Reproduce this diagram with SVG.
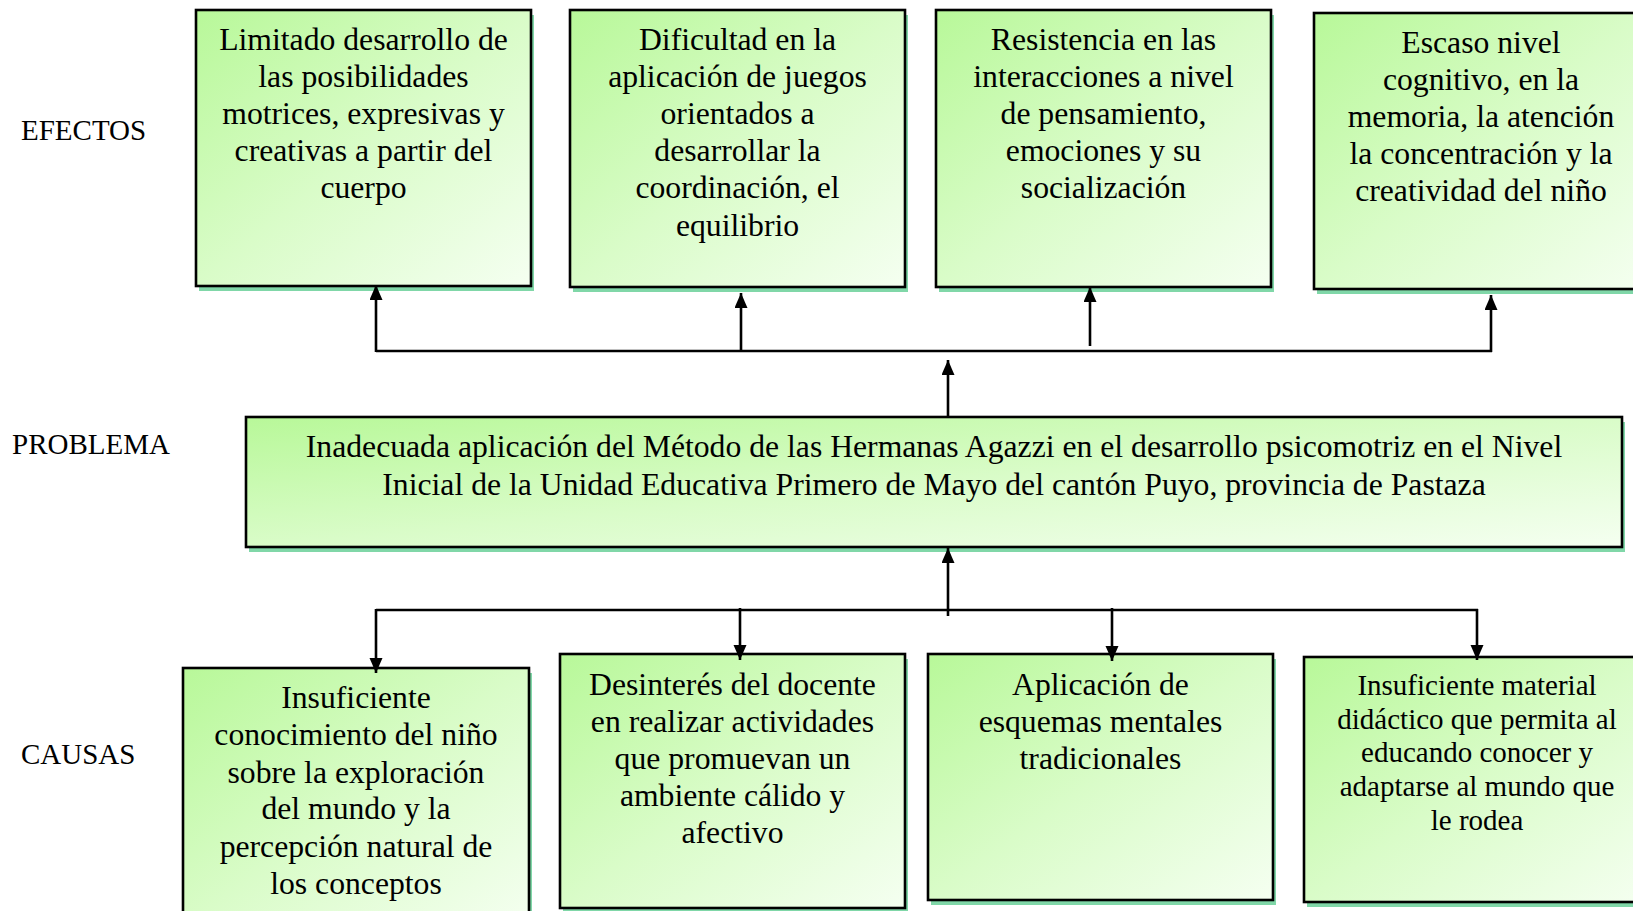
<svg xmlns="http://www.w3.org/2000/svg" width="1633" height="911" viewBox="0 0 1633 911">
<defs>
<linearGradient id="g" x1="0" y1="0" x2="1" y2="1">
<stop offset="0" stop-color="#b8f899"/>
<stop offset="0.5" stop-color="#d9fcc8"/>
<stop offset="1" stop-color="#f5fff1"/>
</linearGradient>
<marker id="ah" markerUnits="userSpaceOnUse" markerWidth="16" markerHeight="14" refX="15" refY="6.5" orient="auto">
<path d="M0,0 L15,6.5 L0,13 z" fill="#000"/>
</marker>
<style>
.sh{fill:#80d7a8}
.bx{fill:url(#g);stroke:#000;stroke-width:2.6}
.t{font-family:"Liberation Serif","Times New Roman",serif;font-size:31.7px;fill:#000;text-anchor:middle}
.ts{font-family:"Liberation Serif","Times New Roman",serif;font-size:29px;fill:#000;text-anchor:middle}
.lb{font-family:"Liberation Serif","Times New Roman",serif;font-size:29px;fill:#000}
.c{fill:none;stroke:#000;stroke-width:2.6}
.a{fill:none;stroke:#000;stroke-width:2.6;marker-end:url(#ah)}
</style>
</defs>
<rect width="1633" height="911" fill="#fff"/>

<g id="labels">
<text class="lb" x="21" y="140">EFECTOS</text>
<text class="lb" x="12" y="454">PROBLEMA</text>
<text class="lb" x="21" y="764">CAUSAS</text>
</g>

<g id="efecto1">
<rect class="sh" x="199" y="15" width="335" height="276"/>
<rect class="bx" x="196" y="10" width="335" height="276"/>
<text class="t"><tspan x="363.5" y="50">Limitado desarrollo de</tspan><tspan x="363.5" y="87">las posibilidades</tspan><tspan x="363.5" y="124">motrices, expresivas y</tspan><tspan x="363.5" y="161">creativas a partir del</tspan><tspan x="363.5" y="198">cuerpo</tspan></text>
</g>
<g id="efecto2">
<rect class="sh" x="573" y="15" width="335" height="277"/>
<rect class="bx" x="570" y="10" width="335" height="277"/>
<text class="t"><tspan x="737.5" y="50">Dificultad en la</tspan><tspan x="737.5" y="87">aplicación de juegos</tspan><tspan x="737.5" y="124">orientados a</tspan><tspan x="737.5" y="161">desarrollar la</tspan><tspan x="737.5" y="198">coordinación, el</tspan><tspan x="737.5" y="236">equilibrio</tspan></text>
</g>
<g id="efecto3">
<rect class="sh" x="939" y="15" width="335" height="277"/>
<rect class="bx" x="936" y="10" width="335" height="277"/>
<text class="t"><tspan x="1103.5" y="50">Resistencia en las</tspan><tspan x="1103.5" y="87">interacciones a nivel</tspan><tspan x="1103.5" y="124">de pensamiento,</tspan><tspan x="1103.5" y="161">emociones y su</tspan><tspan x="1103.5" y="198">socialización</tspan></text>
</g>
<g id="efecto4">
<rect class="sh" x="1317" y="18" width="334" height="276"/>
<rect class="bx" x="1314" y="13" width="334" height="276"/>
<text class="t"><tspan x="1481" y="53">Escaso nivel</tspan><tspan x="1481" y="90">cognitivo, en la</tspan><tspan x="1481" y="127">memoria, la atención</tspan><tspan x="1481" y="164">la concentración y la</tspan><tspan x="1481" y="201">creatividad del niño</tspan></text>
</g>

<g id="problema">
<rect class="sh" x="249" y="422" width="1376" height="130"/>
<rect class="bx" x="246" y="417" width="1376" height="130"/>
<text class="t"><tspan x="934" y="457">Inadecuada aplicación del Método de las Hermanas Agazzi en el desarrollo psicomotriz en el Nivel</tspan><tspan x="934" y="495">Inicial de la Unidad Educativa Primero de Mayo del cantón Puyo, provincia de Pastaza</tspan></text>
</g>

<g id="causa1">
<rect class="sh" x="186" y="673" width="346" height="260"/>
<rect class="bx" x="183" y="668" width="346" height="260"/>
<text class="t"><tspan x="356" y="708">Insuficiente</tspan><tspan x="356" y="745">conocimiento del niño</tspan><tspan x="356" y="783">sobre la exploración</tspan><tspan x="356" y="819">del mundo y la</tspan><tspan x="356" y="857">percepción natural de</tspan><tspan x="356" y="894">los conceptos</tspan></text>
</g>
<g id="causa2">
<rect class="sh" x="563" y="659" width="345" height="254"/>
<rect class="bx" x="560" y="654" width="345" height="254"/>
<text class="t"><tspan x="732.5" y="695">Desinterés del docente</tspan><tspan x="732.5" y="732">en realizar actividades</tspan><tspan x="732.5" y="769">que promuevan un</tspan><tspan x="732.5" y="806">ambiente cálido y</tspan><tspan x="732.5" y="843">afectivo</tspan></text>
</g>
<g id="causa3">
<rect class="sh" x="931" y="659" width="345" height="246"/>
<rect class="bx" x="928" y="654" width="345" height="246"/>
<text class="t"><tspan x="1100.5" y="695">Aplicación de</tspan><tspan x="1100.5" y="732">esquemas mentales</tspan><tspan x="1100.5" y="769">tradicionales</tspan></text>
</g>
<g id="causa4">
<rect class="sh" x="1307" y="662" width="346" height="245"/>
<rect class="bx" x="1304" y="657" width="346" height="245"/>
<text class="ts"><tspan x="1477" y="695">Insuficiente material</tspan><tspan x="1477" y="729">didáctico que permita al</tspan><tspan x="1477" y="762">educando conocer y</tspan><tspan x="1477" y="796">adaptarse al mundo que</tspan><tspan x="1477" y="830">le rodea</tspan></text>
</g>

<g id="connectors">
<path class="c" d="M376,351 H1492"/>
<path class="a" d="M376,352 V285"/>
<path class="a" d="M741,352 V293"/>
<path class="a" d="M1090,346 V287"/>
<path class="a" d="M1491,352 V295"/>
<path class="a" d="M948,417 V360"/>
<path class="c" d="M376,610 H1478"/>
<path class="a" d="M948,616 V548"/>
<path class="a" d="M376,609 V673"/>
<path class="a" d="M740,608 V660"/>
<path class="a" d="M1112,608 V661"/>
<path class="a" d="M1477,609 V660"/>
</g>
</svg>
